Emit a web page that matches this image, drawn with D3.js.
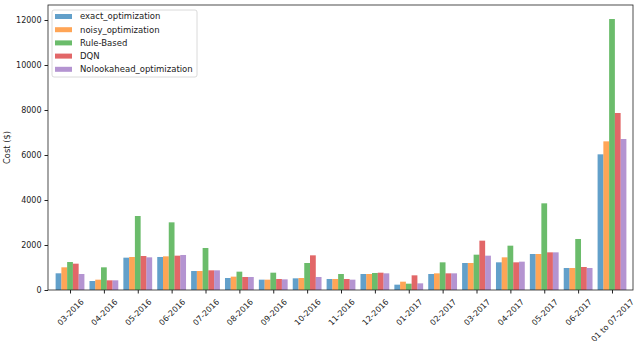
<!DOCTYPE html>
<meta charset="utf-8">
<head>
<script src="https://d3js.org/d3.v7.min.js"></script>
<style>
  body { margin: 0; background: #fff; font-family: "DejaVu Sans", sans-serif; }
  .axis text { font-size: 8px; fill: #222; font-family: "DejaVu Sans", sans-serif; }
  .axis path, .axis line { stroke: #222; }
</style>
</head>
<body>
<div id="my_dataviz"></div>
<script>

// data
var months = ["03-2016", "04-2016", "05-2016", "06-2016", "07-2016", "08-2016", "09-2016",
  "10-2016", "11-2016", "12-2016", "01-2017", "02-2017", "03-2017", "04-2017", "05-2017",
  "06-2017", "01 to 07-2017"];
var seriesNames = ["exact_optimization", "noisy_optimization", "Rule-Based", "DQN", "Nolookahead_optimization"];
var exactOpt  = [742, 400, 1437, 1467, 844, 533, 459, 519, 489, 711, 237, 711, 1200, 1230, 1600, 978, 6030];
var noisyOpt  = [1008, 459, 1467, 1496, 844, 593, 459, 533, 489, 711, 370, 741, 1200, 1452, 1600, 978, 6607];
var ruleBased = [1244, 1008, 3289, 3007, 1867, 815, 770, 1200, 711, 756, 281, 1230, 1570, 1970, 3852, 2267, 12044];
var dqn       = [1170, 430, 1511, 1526, 874, 578, 489, 1541, 489, 770, 652, 741, 2193, 1230, 1674, 1022, 7867];
var noLook    = [711, 430, 1452, 1556, 874, 578, 474, 578, 459, 741, 296, 741, 1526, 1259, 1674, 978, 6711];
var yTicks = [0, 2000, 4000, 6000, 8000, 10000, 12000];
var colors = ["#1f77b4", "#ff7f0e", "#2ca02c", "#d62728", "#9467bd"];

var allSeries = [exactOpt, noisyOpt, ruleBased, dqn, noLook];

var margin = {top: 5, right: 4, bottom: 51, left: 48},
    width = 637 - margin.left - margin.right,
    height = 341 - margin.top - margin.bottom;

var svg = d3.select("#my_dataviz")
  .append("svg")
    .attr("width", 637)
    .attr("height", 341)
  .append("g")
    .attr("transform", "translate(" + margin.left + "," + margin.top + ")");

// x as a numeric index scale like matplotlib
var x = d3.scaleLinear()
  .domain([-0.65, months.length - 1 + 0.62])
  .range([0, width]);

var y = d3.scaleLinear()
  .domain([0, 12667])
  .range([height, 0]);

var barW = 0.17;

// bars
allSeries.forEach(function(vals, si) {
  svg.append("g")
    .selectAll("rect")
    .data(vals)
    .enter()
    .append("rect")
      .attr("x", function(d, i) { return x(i + (si - 2.5) * barW); })
      .attr("width", x(barW) - x(0))
      .attr("y", function(d) { return y(d); })
      .attr("height", function(d) { return height - y(d); })
      .style("fill", colors[si])
      .style("fill-opacity", 0.7);
});

// axes
svg.append("g")
  .attr("class", "axis")
  .call(d3.axisLeft(y).tickValues(yTicks).tickSize(3.5).tickPadding(3).tickFormat(d3.format("d")))
  .call(function(g) { g.select(".domain").remove(); });

var xAxis = svg.append("g")
  .attr("class", "axis")
  .attr("transform", "translate(0," + height + ")")
  .call(d3.axisBottom(x).tickValues(d3.range(months.length)).tickSize(3.5)
    .tickFormat(function(i) { return months[i]; }))
  .call(function(g) { g.select(".domain").remove(); });

// rotated labels, centred under the tick (matplotlib rotation=45, ha=center)
xAxis.selectAll("text")
  .style("text-anchor", "middle")
  .attr("y", 0)
  .attr("dy", "0.35em")
  .attr("transform", function() {
    var L = this.getComputedTextLength(), h = 8;
    var off = 7.5 + (L + h) / (2 * Math.SQRT2);
    return "translate(0," + off + ") rotate(-45)";
  });

// frame
svg.append("rect")
  .attr("width", width)
  .attr("height", height)
  .style("fill", "none")
  .style("stroke", "#222")
  .style("stroke-width", 0.8);

// y label
svg.append("text")
  .attr("transform", "rotate(-90)")
  .attr("x", -height / 2)
  .attr("y", -38)
  .style("text-anchor", "middle")
  .style("font-size", "8.3px")
  .style("fill", "#222")
  .text("Cost ($)");

// legend
var legend = svg.append("g").attr("transform", "translate(4,5)");
legend.append("rect")
  .attr("width", 145)
  .attr("height", 67)
  .attr("rx", 2)
  .style("fill", "#fff")
  .style("fill-opacity", 0.8)
  .style("stroke", "#d0d0d0")
  .style("stroke-width", 0.8);

var entry = legend.selectAll(".entry")
  .data(seriesNames)
  .enter()
  .append("g")
    .attr("transform", function(d, i) { return "translate(0," + (6.5 + i * 13.2) + ")"; });

entry.append("rect")
  .attr("x", 3)
  .attr("y", -2.5)
  .attr("width", 17)
  .attr("height", 5)
  .style("fill", function(d, i) { return colors[i]; })
  .style("fill-opacity", 0.7);

entry.append("text")
  .attr("x", 28)
  .attr("y", 0)
  .attr("dy", "0.35em")
  .style("font-size", "8.5px")
  .style("fill", "#222")
  .text(function(d) { return d; });

</script>
</body>
